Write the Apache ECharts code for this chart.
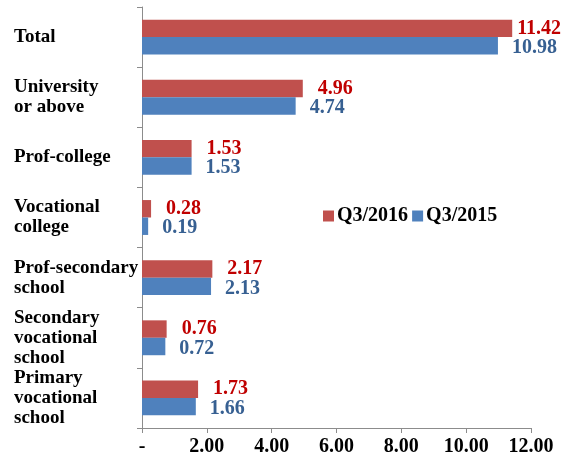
<!DOCTYPE html>
<html>
<head>
    <meta charset="utf-8">
    <title>ECharts</title>
    <script src="https://cdn.jsdelivr.net/npm/echarts@6/dist/echarts.min.js"></script>
</head>
<body style="margin:0;background:#fff">
    <div id="main" style="width: 566px;height:457px;"></div>
    <script type="text/javascript">
        // data
        var categories = ['Total', 'University\nor above', 'Prof-college', 'Vocational\ncollege',
            'Prof-secondary\nschool', 'Secondary\nvocational\nschool', 'Primary\nvocational\nschool'];
        var q3_2016 = [11.42, 4.96, 1.53, 0.28, 2.17, 0.76, 1.73];
        var q3_2015 = [10.98, 4.74, 1.53, 0.19, 2.13, 0.72, 1.66];
        var xTickLabels = ['-', '2.00', '4.00', '6.00', '8.00', '10.00', '12.00'];

        var font = '"Liberation Serif", "Times New Roman", serif';
        var myChart = echarts.init(document.getElementById('main'));

        // the longest bar's label sits close to its bar so it stays on the page
        function withLabels(values) {
            return values.map(function (v, i) {
                return i === 0 ? { value: v, label: { distance: 5 } } : v;
            });
        }

        var option = {
            animation: false,
            grid: { left: 142, right: 35, top: 7, bottom: 28, containLabel: false },
            legend: {
                left: 318, top: 201,
                itemWidth: 11, itemHeight: 11, itemGap: 4,
                icon: 'rect',
                textStyle: { fontFamily: font, fontWeight: 'bold', fontSize: 20, color: '#000', padding: [0, 0, 0, -2] },
                data: ['Q3/2016', 'Q3/2015']
            },
            xAxis: {
                type: 'value', min: 0, max: 12, interval: 2,
                axisLine: { show: true, lineStyle: { color: '#8c8c8c' } },
                axisTick: { show: true, length: 5, lineStyle: { color: '#8c8c8c' } },
                splitLine: { show: false },
                axisLabel: {
                    margin: 9, fontFamily: font, fontWeight: 'bold', fontSize: 20, color: '#000',
                    formatter: function (v) { return xTickLabels[Math.round(v / 2)]; }
                }
            },
            yAxis: {
                type: 'category', inverse: true, data: categories,
                axisLine: { show: true, lineStyle: { color: '#8c8c8c' } },
                axisTick: { show: true, length: 5, lineStyle: { color: '#8c8c8c' } },
                axisLabel: {
                    align: 'left', margin: 128, fontFamily: font, fontWeight: 'bold',
                    fontSize: 19, lineHeight: 20, color: '#000'
                }
            },
            series: [
                {
                    name: 'Q3/2016', type: 'bar', data: withLabels(q3_2016),
                    barGap: '0%', barCategoryGap: '42%',
                    itemStyle: { color: '#C0504D' },
                    label: {
                        show: true, position: 'right', distance: 15,
                        fontFamily: font, fontWeight: 'bold', fontSize: 20, color: '#C00000',
                        formatter: function (p) { return p.value.toFixed(2); }
                    }
                },
                {
                    name: 'Q3/2015', type: 'bar', data: q3_2015,
                    barGap: '0%', barCategoryGap: '42%',
                    itemStyle: { color: '#4F81BD' },
                    label: {
                        show: true, position: 'right', distance: 14, offset: [0, 2],
                        fontFamily: font, fontWeight: 'bold', fontSize: 20, color: '#376092',
                        formatter: function (p) { return p.value.toFixed(2); }
                    }
                }
            ]
        };
        myChart.setOption(option);
    </script>
</body>
</html>
